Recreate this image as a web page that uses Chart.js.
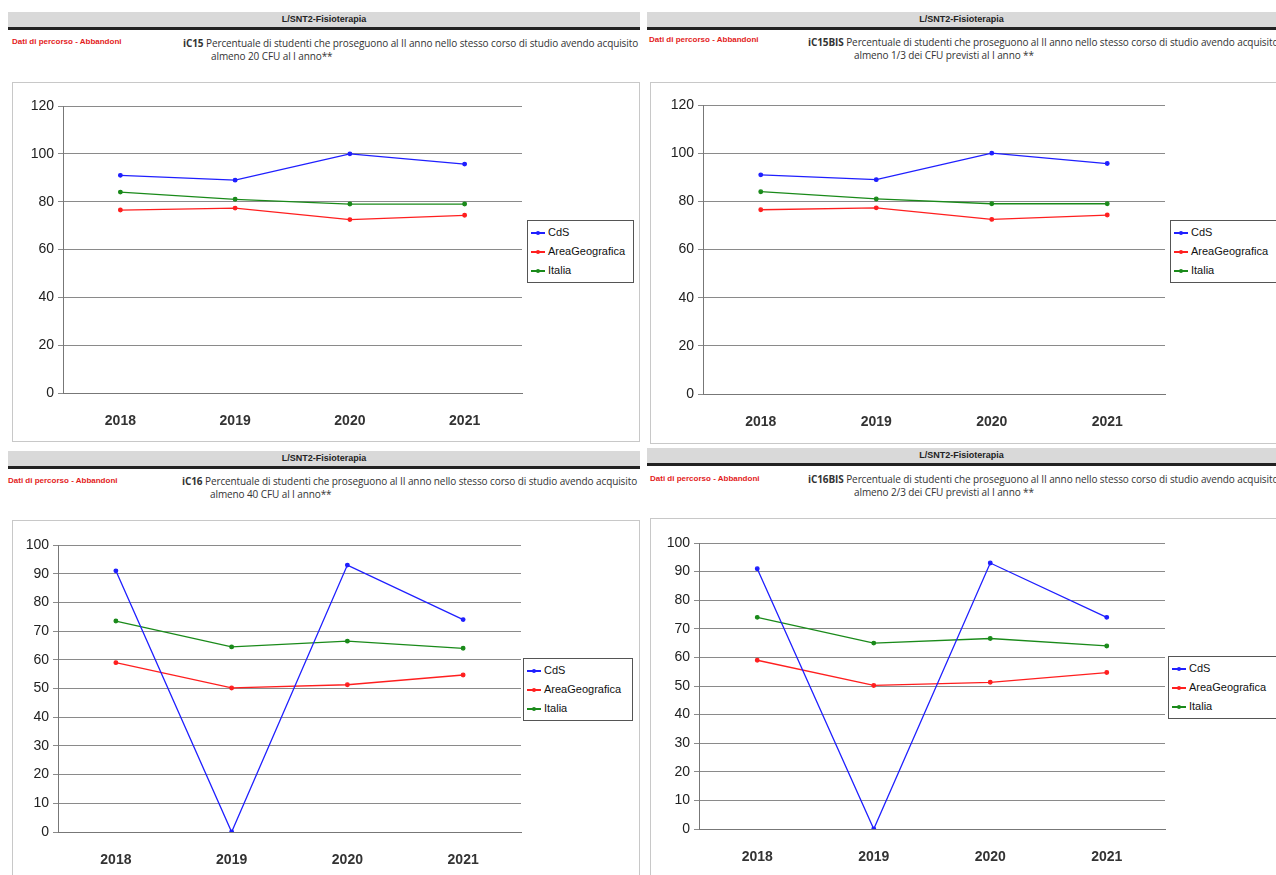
<!DOCTYPE html>
<html><head><meta charset="utf-8">
<script src="https://cdn.jsdelivr.net/npm/chart.js@4/dist/chart.umd.min.js"></script>
<style>
body{margin:0;background:#fff;width:1276px;height:875px;overflow:hidden;position:relative;font-family:"Liberation Sans",Arial,sans-serif}
.bar{position:absolute;height:15px;background:#d9d9d9;border-bottom:3px solid #222;font:bold 9px "Liberation Sans",Arial;text-align:center;line-height:15px;color:#222}
.red{position:absolute;color:#e31b1b;font:bold 8px "Liberation Sans",Arial}
.ttl{position:absolute;font:10px "Open Sans",Arial;color:#333;line-height:13px;white-space:nowrap;letter-spacing:-0.1px}
.ttl b{font-weight:bold}
.box{position:absolute;border:1px solid #c8c8c8;background:#fff}
.box canvas{position:absolute;left:0;top:0}
.leg{position:absolute;border:1px solid #555;background:#fff;font:11px "Liberation Sans",Arial;color:#111;padding:2px 0}
.leg div{height:19px;line-height:19px;white-space:nowrap;position:relative;padding-left:20px}
.leg i{position:absolute;left:3px;top:9px;width:14px;height:2px}
.leg i:after{content:"";position:absolute;left:5px;top:-1px;width:4px;height:4px;border-radius:2px;background:inherit}
</style></head><body>
<script>
const years = ["2018", "2019", "2020", "2021"];
const seriesNames = ["CdS", "AreaGeografica", "Italia"];
const colors = ["#1f1fff", "#ff1f1f", "#1a8a1a"];

const ic15Cds = [91, 89, 100, 95.7];
const ic15Area = [76.5, 77.3, 72.5, 74.3];
const ic15Italia = [84, 81, 79, 79];

const ic15bisCds = [91, 89, 100, 95.7];
const ic15bisArea = [76.5, 77.3, 72.5, 74.3];
const ic15bisItalia = [84, 81, 79, 79];

const ic16Cds = [91, 0, 93, 74];
const ic16Area = [59, 50.2, 51.3, 54.7];
const ic16Italia = [73.5, 64.5, 66.5, 64];

const ic16bisCds = [91, 0, 93, 74];
const ic16bisArea = [59, 50.2, 51.3, 54.7];
const ic16bisItalia = [74, 65, 66.6, 64];

const panels = [
  {bar:[8,12,632], red:[12,37], ttl:[183,37], code:"iC15", line1:"Percentuale di studenti che proseguono al II anno nello stesso corso di studio avendo acquisito", line2:"almeno 20 CFU al I anno**",
   box:[12,82,626,358], plot:[50,23,117,48], max:120, step:20, leg:[527,220,105], data:[ic15Cds, ic15Area, ic15Italia]},
  {bar:[647,12,629], red:[649,35], ttl:[808,36], code:"iC15BIS", line1:"Percentuale di studenti che proseguono al II anno nello stesso corso di studio avendo acquisito", line2:"almeno 1/3 dei CFU previsti al I anno **",
   box:[650,82,640,360], plot:[52,22,126,49], max:120, step:20, leg:[1170,220,110], data:[ic15bisCds, ic15bisArea, ic15bisItalia]},
  {bar:[8,451,632], red:[8,476], ttl:[182,475], code:"iC16", line1:"Percentuale di studenti che proseguono al II anno nello stesso corso di studio avendo acquisito", line2:"almeno 40 CFU al I anno**",
   box:[12,520,626,360], plot:[45,24,118,49], max:100, step:10, leg:[523,658,108], data:[ic16Cds, ic16Area, ic16Italia]},
  {bar:[647,448,629], red:[650,474], ttl:[808,473], code:"iC16BIS", line1:"Percentuale di studenti che proseguono al II anno nello stesso corso di studio avendo acquisito", line2:"almeno 2/3 dei CFU previsti al I anno **",
   box:[650,518,640,360], plot:[48,24,126,50], max:100, step:10, leg:[1168,656,110], data:[ic16bisCds, ic16bisArea, ic16bisItalia]}
];

function el(tag, cls, css, html){
  const e = document.createElement(tag);
  if (cls) e.className = cls;
  Object.assign(e.style, css);
  if (html) e.innerHTML = html;
  document.body.appendChild(e);
  return e;
}

panels.forEach(p => {
  el("div","bar",{left:p.bar[0]+"px",top:p.bar[1]+"px",width:p.bar[2]+"px"},"L/SNT2-Fisioterapia");
  el("div","red",{left:p.red[0]+"px",top:p.red[1]+"px"},"Dati di percorso - Abbandoni");
  el("div","ttl",{left:p.ttl[0]+"px",top:p.ttl[1]+"px"},
    "<b>"+p.code+"</b> "+p.line1+"<br><span style='padding-left:"+(p.code.length*6+4)+"px'>"+p.line2+"</span>");

  const box = el("div","box",{left:p.box[0]+"px",top:p.box[1]+"px",width:p.box[2]+"px",height:p.box[3]+"px"});
  const c = document.createElement("canvas");
  c.width = p.box[2]; c.height = p.box[3];
  box.appendChild(c);

  const [pl, pt, pr, pb] = p.plot;
  new Chart(c, {
    type: "line",
    data: {
      labels: years,
      datasets: seriesNames.map((n, i) => ({
        label: n, data: p.data[i], borderColor: colors[i], backgroundColor: colors[i],
        borderWidth: 1.3, pointRadius: 1.8, pointHoverRadius: 1.8, tension: 0
      }))
    },
    options: {
      responsive: false, animation: false, devicePixelRatio: 1,
      layout: {padding: {left: 0, top: pt, right: pr, bottom: 0}},
      plugins: {legend: {display: false}, tooltip: {enabled: false}},
      scales: {
        x: {
          offset: true,
          grid: {display: false, drawTicks: true},
          border: {color: "#777"},
          ticks: {padding: 12, color: "#333", font: {family: "Liberation Sans", size: 14, weight: "bold"}},
          afterFit: s => { s.height = pb; }
        },
        y: {
          min: 0, max: p.max,
          grid: {color: "#8a8a8a", lineWidth: 1, tickLength: 5},
          border: {color: "#777"},
          ticks: {stepSize: p.step, color: "#222", padding: 4, font: {family: "Liberation Sans", size: 14}},
          afterFit: s => { s.width = pl; }
        }
      }
    }
  });

  el("div","leg",{left:p.leg[0]+"px",top:p.leg[1]+"px",width:p.leg[2]+"px"},
    seriesNames.map((n,i)=>"<div><i style='background:"+colors[i]+"'></i>"+n+"</div>").join(""));
});
</script>
</body></html>
